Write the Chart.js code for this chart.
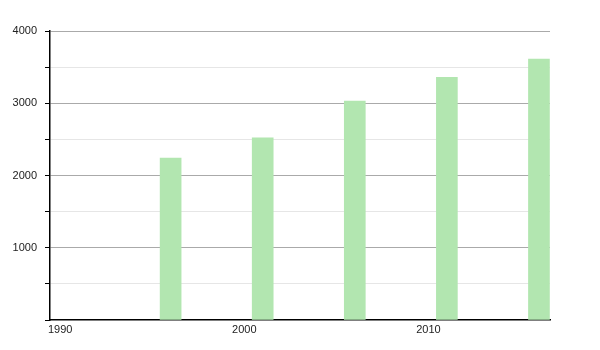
<!DOCTYPE html>
<html>
<head>
<meta charset="utf-8">
<script src="https://cdn.jsdelivr.net/npm/chart.js@4"></script>
<style>
    html, body { margin: 0; padding: 0; background: #fff; }
    #wrap { width: 600px; height: 350px; }
</style>
</head>
<body>
<div id="wrap"><canvas id="popChart"></canvas></div>
<script>
// census years and population
const years = [1996, 2001, 2006, 2011, 2016];
const population = [2240, 2520, 3030, 3360, 3610];
const xTickLabels = [1990, 2000, 2010];
const yTickLabels = [1000, 2000, 3000, 4000];

const points = years.map((y, i) => ({ x: y, y: population[i] }));

new Chart(document.getElementById('popChart').getContext('2d'), {
    type: 'bar',
    data: {
        datasets: [{
            data: points,
            backgroundColor: '#b2e6b0',
            borderWidth: 0,
            barThickness: 21
        }]
    },
    options: {
        responsive: true,
        maintainAspectRatio: false,
        animation: false,
        layout: { padding: { top: 31, right: 50, left: 0, bottom: 0 } },
        plugins: { legend: { display: false }, tooltip: { enabled: false } },
        scales: {
            x: {
                type: 'linear',
                offset: false,
                min: 1989.45,
                max: 2016.6,
                afterBuildTicks: scale => {
                    scale.ticks = xTickLabels.map(v => ({ value: v }));
                },
                afterFit: scale => { scale.height = 30; },
                grid: { display: false, drawTicks: false },
                border: { color: '#000', width: 1.5 },
                ticks: {
                    color: '#222',
                    font: { family: 'Liberation Sans, Arial', size: 11 },
                    padding: 3,
                    maxRotation: 0,
                    callback: v => String(v)
                }
            },
            y: {
                min: 0,
                max: 4000,
                afterFit: scale => { scale.width = 50; },
                ticks: {
                    stepSize: 500,
                    color: '#222',
                    font: { family: 'Liberation Sans, Arial', size: 11 },
                    padding: 8,
                    callback: v => yTickLabels.includes(v) ? String(v) : ''
                },
                grid: {
                    color: ctx => ctx.tick.value === 0 ? 'rgba(0,0,0,0)' : (ctx.tick.value % 1000 === 0 ? '#aaaaaa' : '#e6e6e6'),
                    tickColor: '#000',
                    tickLength: 5
                },
                border: { color: '#000', width: 1.5 }
            }
        }
    }
});
</script>
</body>
</html>
